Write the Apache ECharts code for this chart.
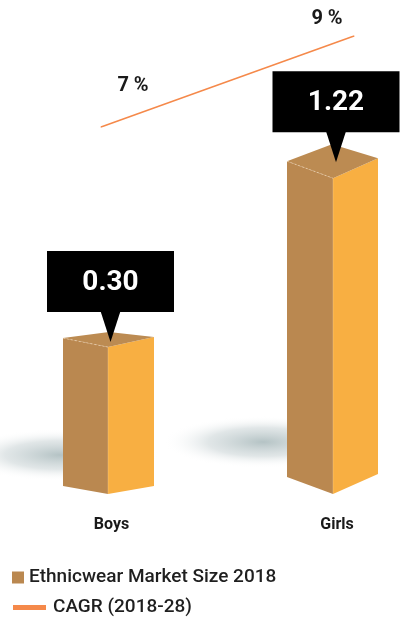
<!DOCTYPE html>
<html>
<head>
<meta charset="utf-8">
<script src="https://cdn.jsdelivr.net/npm/echarts@6/dist/echarts.min.js"></script>
<style>
html,body{margin:0;padding:0;background:#fff;}
#main{width:404px;height:624px;}
</style>
</head>
<body>
<div id="main"></div>
<script>
// ---- data ----
const categories = ['Boys', 'Girls'];
const marketSize = [0.30, 1.22];
const cagrPoints = ['2018', '2028'];
const cagrValues = [7, 9];
const seriesNames = ['Ethnicwear Market Size 2018', 'CAGR (2018-28)'];

// ---- styles (per bar perspective / decoration) ----
const yMin = -0.5;
const barStyle = [
  { dx: -3.5, wl: 45, wr: 46, dl: 9, dr: 10, db: 15, bl: 8, br: 8, tip: 5, sx: -48, sy: -39 },
  { dx: -4, wl: 46, wr: 45, dl: 17, dr: 20, db: 34, bl: 17, br: 20, tip: 16, sx: -70, sy: -52 }
];
const cagrLabelOffsets = [[32, -41], [-27, -17]];
const colLeft = '#ba8850', colRight = '#f8af42', colTop = '#bc8b52', lineCol = '#f5894a';

const chart = echarts.init(document.getElementById('main'), null, { renderer: 'canvas' });

function renderBar(params, api) {
  const i = params.dataIndex;
  const p = barStyle[i];
  const top = api.coord([api.value(0), api.value(1)]);
  const base = api.coord([api.value(0), yMin]);
  const cx = top[0];
  const fx = cx + p.dx;
  const ty = top[1], by = base[1];
  const lx = fx - p.wl, rx = fx + p.wr;
  const tl = ty - p.dl, tr = ty - p.dr, tb = ty - p.db;
  const bx = lx + rx - fx;
  const bl = by - p.bl, br = by - p.br;
  const shadow = {
    type: 'circle', shape: { cx: 0, cy: 0, r: 100 },
    x: fx + p.sx, y: by + p.sy, scaleY: 0.26,
    style: {
      fill: new echarts.graphic.RadialGradient(0.5, 0.5, 0.5, [
        { offset: 0, color: 'rgba(172,188,190,0.9)' },
        { offset: 0.55, color: 'rgba(200,210,212,0.55)' },
        { offset: 1, color: 'rgba(255,255,255,0)' }
      ])
    }
  };
  const boxW = 127, boxH = 61;
  const tipY = ty - p.tip;
  const boxCx = cx - 1;
  const boxBottom = tipY - 30;
  return {
    type: 'group',
    children: [
      shadow,
      { type: 'polygon', shape: { points: [[lx, tl], [fx, ty], [fx, by], [lx, bl]] }, style: { fill: colLeft } },
      { type: 'polygon', shape: { points: [[fx, ty], [rx, tr], [rx, br], [fx, by]] }, style: { fill: colRight } },
      { type: 'line', shape: { x1: fx, y1: ty, x2: fx, y2: by }, style: { stroke: 'rgba(255,220,170,0.5)', lineWidth: 0.6 } },
      { type: 'polygon', shape: { points: [[lx, tl], [bx, tb], [rx, tr], [fx, ty]] }, style: { fill: colTop } },
      { type: 'line', shape: { x1: lx, y1: tl, x2: fx, y2: ty }, style: { stroke: 'rgba(255,235,210,0.6)', lineWidth: 0.8, lineDash: [2, 2] } },
      { type: 'rect', shape: { x: boxCx - boxW / 2, y: boxBottom - boxH, width: boxW, height: boxH }, style: { fill: '#000' } },
      { type: 'polygon', shape: { points: [[boxCx - 10, boxBottom - 1], [boxCx + 10, boxBottom - 1], [boxCx, tipY]] }, style: { fill: '#000' } },
      { type: 'text', style: { text: api.value(1).toFixed(2), x: boxCx, y: boxBottom - boxH / 2 + 1, fill: '#fff', font: 'bold 28px Roboto', align: 'center', verticalAlign: 'middle' } }
    ]
  };
}

const option = {
  animation: false,
  backgroundColor: '#fff',
  grid: [
    { left: 111.5, right: 67, top: 35, bottom: 130 },
    { left: 101, right: 50, top: 36, bottom: 497 }
  ],
  xAxis: [
    { type: 'category', gridIndex: 0, data: categories, boundaryGap: false,
      axisLine: { show: false }, axisTick: { show: false }, splitLine: { show: false },
      axisLabel: { margin: 23, fontSize: 16, fontWeight: 'bold', color: '#1a1a1a', fontFamily: 'Roboto' } },
    { type: 'category', gridIndex: 1, data: cagrPoints, boundaryGap: false, show: false }
  ],
  yAxis: [
    { type: 'value', gridIndex: 0, min: yMin, max: 2, show: false },
    { type: 'value', gridIndex: 1, min: 7, max: 9, show: false }
  ],
  legend: [
    { data: [seriesNames[0]], left: 12, top: 568, padding: 0, icon: 'rect', itemWidth: 12, itemHeight: 12,
      textStyle: { fontSize: 19, fontWeight: 500, color: '#1f1f1f', fontFamily: 'Roboto' } },
    { data: [seriesNames[1]], left: 13, top: 598, padding: 0, icon: 'rect', itemWidth: 33, itemHeight: 5,
      textStyle: { fontSize: 19, fontWeight: 500, color: '#1f1f1f', fontFamily: 'Roboto', padding: [0, 0, 4, 2] } }
  ],
  series: [
    {
      name: seriesNames[0], type: 'custom', xAxisIndex: 0, yAxisIndex: 0,
      itemStyle: { color: colLeft },
      renderItem: renderBar,
      data: categories.map((c, i) => [c, marketSize[i]])
    },
    {
      name: seriesNames[1], type: 'line', xAxisIndex: 1, yAxisIndex: 1,
      symbol: 'circle', symbolSize: 1,
      itemStyle: { color: lineCol },
      lineStyle: { color: lineCol, width: 1.5 },
      label: { show: true, position: 'inside', formatter: '{c} %', fontSize: 20, fontWeight: 'bold', color: '#1a1a1a', fontFamily: 'Roboto' },
      data: cagrValues.map((v, i) => ({ value: v, label: { offset: cagrLabelOffsets[i] } }))
    }
  ]
};
chart.setOption(option);
</script>
</body>
</html>
